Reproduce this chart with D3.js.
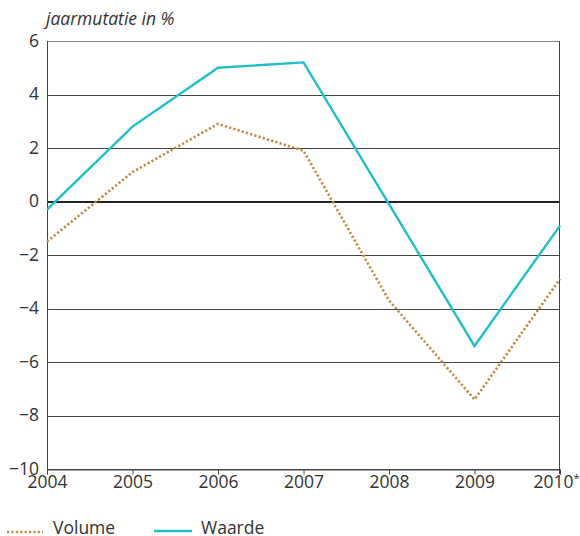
<!DOCTYPE html>
<html><head><meta charset="utf-8">
<script src="https://cdn.jsdelivr.net/npm/d3@7"></script>
<style>body{margin:0;background:#fff}svg{display:block}text{font-family:"Open Sans","Noto Sans",sans-serif;fill:#333}</style>
</head><body>
<svg id="c" width="580" height="536"></svg>
<script>
const years = ["2004","2005","2006","2007","2008","2009","2010*"];
const waarde = [-0.3, 2.8, 5.0, 5.2, -0.1, -5.4, -0.9];
const volume = [-1.5, 1.1, 2.9, 1.9, -3.7, -7.4, -2.9];
const yTicks = [6,4,2,0,-2,-4,-6,-8,-10];
const yTitle = "jaarmutatie in %";
const legendLabels = ["Volume","Waarde"];

const FS = 17.5;
const svg = d3.select("#c");
const L=47,R=560,T=41,B=469;
const x = d3.scalePoint().domain(years).range([L,R]);
const y = d3.scaleLinear().domain([-10,6]).range([B,T]);
const fmt = v => v<0 ? "\u2212"+Math.abs(v) : String(v);

// gridlines
svg.append("g").selectAll("line").data(yTicks.filter(v=>v!==0)).join("line")
  .attr("x1",L).attr("x2",R).attr("y1",d=>Math.round(y(d))+0.5).attr("y2",d=>Math.round(y(d))+0.5)
  .attr("stroke",d=>d===6?"#888":"#444").attr("stroke-width",1);
// zero line
svg.append("line").attr("x1",L).attr("x2",R).attr("y1",Math.round(y(0))).attr("y2",Math.round(y(0)))
  .attr("stroke","#222").attr("stroke-width",2);
// side borders
svg.append("line").attr("x1",L+0.5).attr("x2",L+0.5).attr("y1",T).attr("y2",B+5).attr("stroke","#444");
svg.append("line").attr("x1",R-0.5).attr("x2",R-0.5).attr("y1",T).attr("y2",B+5).attr("stroke","#444");

// x axis
const xa = svg.append("g").attr("transform",`translate(0,${Math.round(B)+0.5})`)
  .call(d3.axisBottom(x).tickSize(5).tickPadding(1));
xa.select(".domain").attr("stroke","#444");
xa.selectAll(".tick line").attr("stroke","#444");
xa.selectAll(".tick text").attr("font-size",FS).attr("fill","#333")
  .style("font-family",'"Open Sans","Noto Sans",sans-serif');
xa.selectAll(".tick text").filter(d=>d==="2010*").text("2010").attr("dx",-4).append("tspan")
  .attr("font-size",11).attr("dy",-6).text("*");

// y labels
svg.append("g").selectAll("text").data(yTicks).join("text")
  .attr("x",39).attr("y",d=>y(d)).attr("dy","0.33em").attr("text-anchor","end")
  .attr("font-size",FS).text(fmt);

svg.append("text").attr("x",46).attr("y",25).attr("font-size",FS)
  .attr("font-style","italic").text(yTitle);

const line = d3.line().x((d,i)=>x(years[i])).y(d=>y(d));
svg.append("path").datum(volume).attr("d",line).attr("fill","none")
  .attr("stroke","#c08a3e").attr("stroke-width",2.6).attr("stroke-dasharray","2.2,2.2");
svg.append("path").datum(waarde).attr("d",line).attr("fill","none")
  .attr("stroke","#22bec7").attr("stroke-width",2.4);

// legend
svg.append("line").attr("x1",7).attr("x2",43).attr("y1",532).attr("y2",532)
  .attr("stroke","#c08a3e").attr("stroke-width",2.6).attr("stroke-dasharray","2.2,2.2");
svg.append("text").attr("x",53).attr("y",534).attr("font-size",FS).text(legendLabels[0]);
svg.append("line").attr("x1",154).attr("x2",192).attr("y1",531).attr("y2",531)
  .attr("stroke","#22bec7").attr("stroke-width",2.4);
svg.append("text").attr("x",201).attr("y",534).attr("font-size",FS).text(legendLabels[1]);
</script>
</body></html>
